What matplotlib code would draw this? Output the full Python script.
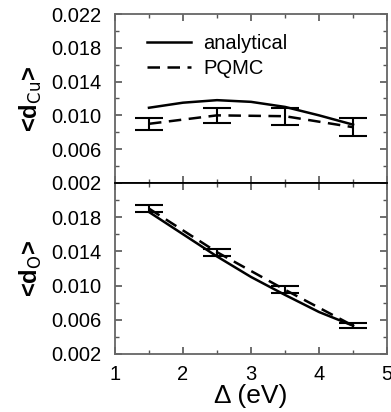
import matplotlib
matplotlib.use("Agg")
import matplotlib.pyplot as plt
import numpy as np
from matplotlib.ticker import MultipleLocator, FixedLocator

plt.rcParams['font.family'] = ['Liberation Sans', 'DejaVu Sans']

# Upper panel: <d_Cu>
ana_x = [1.5, 2.0, 2.5, 3.0, 3.5, 4.0, 4.5]
cu_ana = [0.0109, 0.0115, 0.0118, 0.0116, 0.0110, 0.0100, 0.0089]
q_x = [1.5, 2.5, 3.5, 4.5]
cu_pqmc = [0.0090, 0.0100, 0.0099, 0.0086]
cu_err = [0.0007, 0.0009, 0.0010, 0.0011]

# Lower panel: <d_O>
o_ana = [0.0186, 0.0160, 0.0134, 0.0110, 0.0089, 0.0069, 0.0053]
o_pqmc = [0.0190, 0.0139, 0.0095, 0.0053]
o_err = [0.0004, 0.0004, 0.0004, 0.0003]

yticks = [0.002, 0.006, 0.010, 0.014, 0.018, 0.022]
xticks = [1, 2, 3, 4, 5]

fig = plt.figure(figsize=(3.91, 4.12), dpi=100)
ax1 = fig.add_axes([0.294, 0.556, 0.696, 0.410])
ax2 = fig.add_axes([0.294, 0.141, 0.696, 0.415])

fs = 14.5
for ax, ana, q, e in [(ax1, cu_ana, cu_pqmc, cu_err), (ax2, o_ana, o_pqmc, o_err)]:
    ax.plot(ana_x, ana, color='black', lw=1.8, ls='-', label='analytical')
    ax.plot(q_x, q, color='black', lw=1.8, ls=(0, (5, 3)), label='PQMC')
    ax.errorbar(q_x, q, yerr=e, fmt='none', ecolor='black', elinewidth=1.5,
                capsize=10, capthick=1.5)
    ax.set_xlim(1, 5)
    ax.set_ylim(0.002, 0.022)
    ax.xaxis.set_major_locator(FixedLocator(xticks))
    ax.xaxis.set_minor_locator(MultipleLocator(0.5))
    ax.yaxis.set_major_locator(FixedLocator(yticks))
    ax.yaxis.set_minor_locator(MultipleLocator(0.002))
    ax.tick_params(which='both', direction='in', top=True, right=True,
                   labelsize=fs, color='#555555')
    ax.tick_params(which='major', length=5, width=1.2)
    ax.tick_params(which='minor', length=3, width=1.0)
    ax.tick_params(axis='y', which='major', pad=10)
    ax.tick_params(axis='x', which='major', pad=8)
    for s in ax.spines.values():
        s.set_color('#666666')
        s.set_linewidth(1.3)

ax1.set_yticklabels(['0.002', '0.006', '0.010', '0.014', '0.018', '0.022'])
ax1.tick_params(labelbottom=False)
ax1.spines['bottom'].set_color('black')
ax2.spines['top'].set_color('black')
ax2.set_yticklabels(['0.002', '0.006', '0.010', '0.014', '0.018', ''])
ax2.set_xticklabels([str(v) for v in xticks])

ax1.set_ylabel(r'<d$_{\mathrm{Cu}}$>', fontsize=17, fontweight='bold', labelpad=5)
ax2.set_ylabel(r'<d$_{\mathrm{O}}$>', fontsize=17, fontweight='bold', labelpad=5)
ax2.set_xlabel('Δ (eV)', fontsize=19, labelpad=0)

ax1.legend(loc='upper left', bbox_to_anchor=(0.05, 0.99), frameon=False,
           fontsize=fs, handlelength=2.2, handletextpad=0.6, labelspacing=0.3)

fig.savefig('out.png', dpi=100)
